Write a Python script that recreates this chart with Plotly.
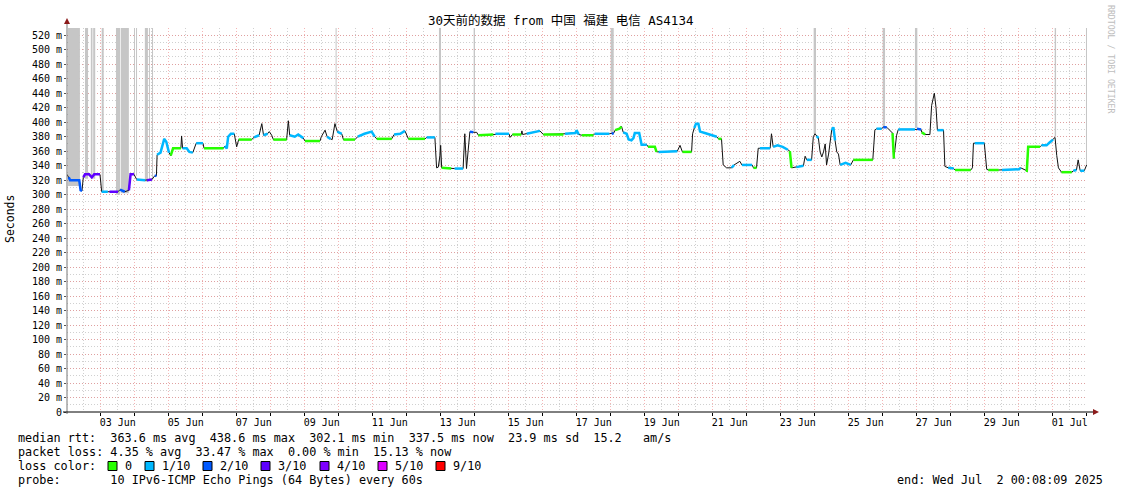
import plotly.graph_objects as go
from datetime import datetime, timedelta

TITLE = "30天前的数据 from 中国 福建 电信 AS4134"
START = datetime(2025, 6, 2, 0, 8, 9)
SPAN_DAYS = 30

# ---- median rtt series (days since start, ms, loss bucket index; -1 = transition only) ----
day_offset = [
    0.00, 0.05, 0.09, 0.36, 0.40, 0.44, 0.48, 0.53, 0.65, 0.73, 0.80, 0.97,
    1.02, 1.20, 1.25, 1.50, 1.56, 1.70, 1.82, 1.87, 1.97, 2.05, 2.30, 2.35,
    2.50, 2.58, 2.63, 2.65, 2.75, 2.86, 2.92, 3.00, 3.05, 3.12, 3.35, 3.37,
    3.40, 3.52, 3.60, 3.70, 3.74, 3.80, 4.00, 4.03, 4.60, 4.64, 4.70, 4.74,
    4.82, 4.92, 4.99, 5.05, 5.43, 5.50, 5.65, 5.73, 5.78, 5.90, 5.95, 6.02,
    6.07, 6.46, 6.51, 6.55, 6.70, 6.80, 6.95, 7.00, 7.44, 7.48, 7.59, 7.65,
    7.75, 7.80, 7.88, 7.95, 8.08, 8.13, 8.47, 8.55, 8.75, 8.96, 9.05, 9.11,
    9.55, 9.62, 9.80, 9.94, 10.04, 10.53, 10.58, 10.82, 10.87, 10.92, 10.97, 10.99,
    11.02, 11.30, 11.40, 11.65, 11.70, 11.75, 11.85, 11.95, 12.05, 12.10, 12.54, 12.60,
    13.00, 13.03, 13.10, 13.36, 13.38, 13.40, 13.52, 13.91, 14.01, 14.60, 14.65, 14.95,
    14.99, 15.05, 15.14, 15.48, 15.52, 15.95, 16.02, 16.08, 16.12, 16.25, 16.31, 16.36,
    16.46, 16.52, 16.60, 16.66, 16.70, 16.83, 16.90, 17.05, 17.09, 17.29, 17.34, 17.40,
    17.95, 18.03, 18.10, 18.37, 18.40, 18.45, 18.50, 18.57, 18.62, 18.76, 19.00, 19.11,
    19.16, 19.25, 19.30, 19.40, 19.55, 19.62, 19.79, 19.85, 20.15, 20.19, 20.28, 20.33,
    20.38, 20.68, 20.72, 20.77, 20.90, 21.05, 21.20, 21.26, 21.31, 21.45, 21.66, 21.71,
    21.76, 21.90, 21.95, 22.00, 22.05, 22.10, 22.15, 22.20, 22.25, 22.30, 22.34, 22.40,
    22.49, 22.54, 22.59, 22.64, 22.69, 22.74, 22.90, 23.05, 23.13, 23.70, 23.76, 23.81,
    23.96, 24.01, 24.11, 24.20, 24.28, 24.32, 24.40, 24.45, 24.94, 25.00, 25.12, 25.14,
    25.24, 25.38, 25.43, 25.51, 25.56, 25.60, 25.78, 25.82, 25.92, 26.08, 26.12, 26.58,
    26.63, 26.66, 26.70, 26.98, 27.05, 27.10, 27.40, 27.50, 28.00, 28.05, 28.20, 28.23,
    28.27, 28.62, 28.66, 28.81, 28.90, 29.00, 29.06, 29.11, 29.16, 29.25, 29.55, 29.60,
    29.69, 29.74, 29.80, 29.92, 29.99,
]
median_ms = [
    328, 324, 320, 320, 306, 305, 324, 328, 328, 324, 328, 328,
    304, 304, 304, 304, 307, 304, 306, 328, 328, 321, 320, 320,
    321, 326, 326, 355, 358, 377, 373, 358, 354, 364, 364, 381,
    364, 364, 359, 358, 364, 371, 371, 364, 364, 367, 364, 380,
    384, 384, 366, 376, 376, 379, 382, 398, 382, 384, 387, 382,
    376, 376, 402, 382, 380, 383, 378, 374, 374, 380, 389, 380,
    377, 376, 398, 387, 384, 376, 376, 380, 384, 387, 380, 377,
    377, 383, 384, 388, 377, 377, 379, 379, 337, 338, 354, 368,
    337, 336, 336, 336, 384, 336, 387, 386, 386, 382, 383, 384,
    384, 379, 383, 383, 388, 383, 384, 388, 383, 383, 384, 385,
    389, 383, 382, 382, 384, 384, 384, 385, 389, 391, 394, 386,
    384, 376, 375, 378, 385, 385, 369, 369, 366, 366, 359, 359,
    360, 368, 359, 359, 384, 392, 398, 398, 387, 385, 382, 380,
    377, 377, 341, 337, 337, 341, 346, 341, 341, 337, 337, 364,
    364, 364, 384, 366, 368, 366, 362, 360, 337, 338, 340, 353,
    348, 348, 380, 384, 381, 378, 359, 352, 359, 370, 341, 356,
    389, 393, 375, 359, 356, 341, 344, 341, 348, 348, 389, 391,
    391, 393, 393, 389, 385, 350, 382, 390, 390, 391, 390, 386,
    383, 383, 423, 440, 420, 389, 389, 339, 337, 336, 334, 334,
    337, 371, 371, 371, 335, 334, 334, 334, 335, 337, 333, 333,
    366, 366, 368, 368, 372, 376, 379, 354, 337, 331, 331, 333,
    334, 348, 333, 333, 341,
]
loss_bucket = [
    3, 2, 2, 2, 2, 2, 3, 3, 3, 3, 3, 3,
    1, 1, 3, 3, 2, 2, 3, 3, 3, 1, 1, 3,
    3, 2, 2, 1, 1, 1, 1, 1, 0, 0, 0, -1,
    1, 1, 1, 1, 0, 1, 1, 0, 0, 1, 1, 1,
    1, 1, -1, 0, 0, 1, 1, -1, 1, 1, -1, 1,
    0, 0, -1, 1, 1, 1, 1, 0, 0, 1, -1, 1,
    1, 0, 2, 1, 1, 0, 0, 1, 1, 1, 1, 0,
    0, 1, 1, 1, 0, 0, 1, 1, -1, 1, -1, -1,
    0, 0, 1, 1, -1, 1, 2, 2, 1, 0, 0, 1,
    1, -1, 0, 0, -1, 0, 1, 1, 0, 0, 1, 1,
    1, 1, 0, 0, 1, 1, 2, 2, 0, 0, 0, 1,
    1, 1, 1, 1, 1, 1, 1, 1, 0, 0, 0, 1,
    1, -1, 0, 0, -1, 1, 1, 1, 1, 1, 1, 1,
    0, 0, -1, 0, 1, 1, 2, 1, 1, 0, 0, -1,
    1, 1, -1, 1, 1, 1, 1, 0, 0, 1, 1, -1,
    1, 1, -1, 3, 1, 1, -1, -1, 1, -1, 0, -1,
    1, 1, 1, -1, 0, 1, 1, 1, 0, 0, -1, 1,
    1, 2, 2, 1, 0, 0, -1, 1, 1, 2, 2, 0,
    0, 1, -1, 1, -1, 1, 1, -1, 1, 1, 0, 0,
    1, -1, 1, 1, -1, 0, 0, 1, 1, 1, 0, 0,
    0, 0, 1, 1, 1, 1, 2, -1, 1, 0, 0, 1,
    1, -1, 1, 1, 2,
]

# ---- tall smoke bands (days since start) ----
band_start = [0.03, 0.53, 0.70, 0.77, 1.02, 1.44, 1.58, 1.97, 2.03, 2.29, 2.41, 2.50,
              7.90, 10.94, 11.96, 15.99, 21.96, 23.99, 24.94, 29.05, 29.97]
band_end = [0.38, 0.62, 0.75, 0.83, 1.08, 1.56, 1.82, 2.00, 2.06, 2.38, 2.44, 2.53,
            7.93, 11.00, 12.00, 16.08, 22.03, 24.06, 25.01, 29.09, 30.00]
band_low = [312, 322, 322, 322, 303, 300, 302, 326, 326, 318, 320, 320,
            395, 340, 387, 386, 384, 393, 392, 380, 340]

# ---- axis ticks ----
y_tick_values = [0, 20, 40, 60, 80, 100, 120, 140, 160, 180, 200, 220, 240, 260,
                 280, 300, 320, 340, 360, 380, 400, 420, 440, 460, 480, 500, 520]
y_tick_labels = ["0", "20 m", "40 m", "60 m", "80 m", "100 m", "120 m", "140 m",
                 "160 m", "180 m", "200 m", "220 m", "240 m", "260 m", "280 m",
                 "300 m", "320 m", "340 m", "360 m", "380 m", "400 m", "420 m",
                 "440 m", "460 m", "480 m", "500 m", "520 m"]
x_tick_dates = ["2025-06-03 12:00", "2025-06-05 12:00", "2025-06-07 12:00",
                "2025-06-09 12:00", "2025-06-11 12:00", "2025-06-13 12:00",
                "2025-06-15 12:00", "2025-06-17 12:00", "2025-06-19 12:00",
                "2025-06-21 12:00", "2025-06-23 12:00", "2025-06-25 12:00",
                "2025-06-27 12:00", "2025-06-29 12:00", "2025-07-01 12:00"]
x_tick_labels = ["03 Jun", "05 Jun", "07 Jun", "09 Jun", "11 Jun", "13 Jun",
                 "15 Jun", "17 Jun", "19 Jun", "21 Jun", "23 Jun", "25 Jun",
                 "27 Jun", "29 Jun", "01 Jul"]

# ---- legend ----
loss_labels = ["0", "1/10", "2/10", "3/10", "4/10", "5/10", "9/10"]
loss_colors = ["#26ff00", "#00b8ff", "#0059ff", "#5e00ff", "#7e00ff", "#dd00ff", "#ff0000"]
median_stats = ["363.6", "438.6", "302.1", "337.5", "23.9", "15.2"]
loss_stats = ["4.35", "33.47", "0.00", "15.13"]
PROBE = "10 IPv6-ICMP Echo Pings (64 Bytes) every 60s"
END_TEXT = "end: Wed Jul  2 00:08:09 2025"
WATERMARK = "RRDTOOL / TOBI OETIKER"

# ---------------- layout geometry ----------------
W, H = 1121, 494
PL, PR, PT, PB = 67, 1087, 28, 412
MONO = "DejaVu Sans Mono, Noto Sans CJK SC, monospace"


def px(x):
    return (x - PL) / (PR - PL)


def py(y):
    return (PB - y) / (PB - PT)


def t(d):
    return START + timedelta(days=d)


end_time = t(SPAN_DAYS)
YMAX = 530

fig = go.Figure()

# smoke bands
for s, e, lo in zip(band_start, band_end, band_low):
    fig.add_trace(go.Scatter(
        x=[t(s), t(s), t(e), t(e)], y=[lo, YMAX, YMAX, lo],
        fill="toself", fillcolor="#c6c6c6", mode="lines",
        line=dict(width=0, color="#c6c6c6"), hoverinfo="skip", showlegend=False))

times = [t(d) for d in day_offset]

# dark median line
fig.add_trace(go.Scatter(x=times, y=median_ms, mode="lines",
                         line=dict(color="#111111", width=1),
                         hoverinfo="skip", showlegend=False))

# loss-coloured median segments
for b, col in enumerate(loss_colors):
    xs, ys = [], []
    for i in range(len(times) - 1):
        if loss_bucket[i] == b and loss_bucket[i + 1] == b:
            if xs and xs[-1] is not None and xs[-1] == times[i]:
                xs.append(times[i + 1]); ys.append(median_ms[i + 1])
            else:
                xs += [None, times[i], times[i + 1]]
                ys += [None, median_ms[i], median_ms[i + 1]]
    if xs:
        fig.add_trace(go.Scatter(x=xs, y=ys, mode="lines", connectgaps=False,
                                 line=dict(color=col, width=2.5),
                                 hoverinfo="skip", showlegend=False))

# invisible trace for label axis
fig.add_trace(go.Scatter(x=[t(0), end_time], y=[0, 0], xaxis="x2", mode="markers",
                         marker=dict(opacity=0), hoverinfo="skip", showlegend=False))

GRID_MAJOR = "rgba(235,120,120,0.55)"
GRID_MINOR = "rgba(170,170,170,0.55)"

fig.update_layout(
    width=W, height=H,
    margin=dict(l=PL, r=W - PR, t=PT, b=H - PB),
    paper_bgcolor="white", plot_bgcolor="white",
    showlegend=False,
    xaxis=dict(
        type="date", range=[t(0), end_time],
        tick0="2025-06-02 00:00:00", dtick=86400000,
        showgrid=True, gridcolor=GRID_MAJOR, griddash="1px,2px", gridwidth=1,
        ticks="outside", ticklen=3, tickcolor="#000000",
        showticklabels=False, showline=False, zeroline=False,
        minor=dict(tick0="2025-06-02 00:00:00", dtick=43200000, showgrid=True,
                   gridcolor=GRID_MINOR, griddash="1px,2px", ticks=""),
    ),
    xaxis2=dict(
        type="date", range=[t(0), end_time], overlaying="x", anchor="y", side="bottom",
        tickmode="array", tickvals=x_tick_dates, ticktext=x_tick_labels,
        showgrid=False, ticks="", zeroline=False, showline=False,
        ticklabelstandoff=3,
        tickfont=dict(family=MONO, size=10, color="#000000"),
    ),
    yaxis=dict(
        range=[0, YMAX], tickmode="array", tickvals=y_tick_values, ticktext=y_tick_labels,
        showgrid=True, gridcolor=GRID_MAJOR, griddash="1px,2px", gridwidth=1,
        ticks="outside", ticklen=2, tickcolor="#555555",
        zeroline=False, showline=False,
        tickfont=dict(family=MONO, size=10, color="#000000"),
        minor=dict(tickmode="linear", tick0=0, dtick=10, showgrid=True,
                   gridcolor=GRID_MINOR, griddash="1px,2px", ticks=""),
    ),
)

shapes = []
# y axis line + arrow
shapes.append(dict(type="line", xref="paper", yref="paper", x0=px(67), x1=px(67),
                   y0=py(414), y1=py(23), line=dict(color="#777777", width=1)))
shapes.append(dict(type="path", xref="paper", yref="paper",
                   path=f"M {px(64)} {py(24)} L {px(70)} {py(24)} L {px(67)} {py(18)} Z",
                   fillcolor="#8b1a1a", line=dict(width=0)))
# x axis line + arrow
shapes.append(dict(type="line", xref="paper", yref="paper", x0=px(63), x1=px(1093),
                   y0=py(412), y1=py(412), line=dict(color="#000000", width=1)))
shapes.append(dict(type="path", xref="paper", yref="paper",
                   path=f"M {px(1093)} {py(409)} L {px(1093)} {py(415)} L {px(1099)} {py(412)} Z",
                   fillcolor="#8b1a1a", line=dict(width=0)))

NB = "\u00a0"


def mono(s):
    return s.replace(" ", NB)


annotations = []
LEG_FONT = dict(family=MONO, size=11.8, color="#000000")


def add_text(text, x, y, anchor="left", font=LEG_FONT, angle=0, yanchor="middle"):
    annotations.append(dict(text=mono(text), x=px(x), y=py(y), xref="paper", yref="paper",
                            xanchor=anchor, yanchor=yanchor, showarrow=False, font=font,
                            textangle=angle))


line1 = (f"median rtt:  {median_stats[0]} ms avg  {median_stats[1]} ms max  "
         f"{median_stats[2]} ms min  {median_stats[3]} ms now  {median_stats[4]} ms sd  "
         f"{median_stats[5]}   am/s")
line2 = (f"packet loss: {loss_stats[0]} % avg  {loss_stats[1]} % max  "
         f"{loss_stats[2]} % min  {loss_stats[3]} % now")
add_text(line1, 16, 438)
add_text(line2, 16, 452)
add_text("loss color:", 16, 466)
swatch_x = [108, 145, 203, 261, 320, 378, 436]
for lbl, col, sx in zip(loss_labels, loss_colors, swatch_x):
    shapes.append(dict(type="rect", xref="paper", yref="paper",
                       x0=px(sx), x1=px(sx + 9), y0=py(470.5), y1=py(461.5),
                       fillcolor=col, line=dict(color="#000000", width=1)))
    add_text(lbl, sx + 15, 466)
add_text("probe:       " + PROBE, 16, 480)
add_text(END_TEXT, 1105, 480, anchor="right")

# title
add_text(TITLE, 560, 21, anchor="center",
         font=dict(family=MONO, size=12.5, color="#000000"))
# y axis title
add_text("Seconds", 10, 219, anchor="center",
         font=dict(family=MONO, size=11.5, color="#000000"), angle=-90)
# watermark
add_text(WATERMARK, 1111, 59, anchor="center",
         font=dict(family=MONO, size=8.2, color="#bdbdbd"), angle=90)

fig.update_layout(shapes=shapes, annotations=annotations)
fig.write_html("out.html", config={"displayModeBar": False},
               post_script="document.body.style.margin='0';document.body.style.padding='0';")
